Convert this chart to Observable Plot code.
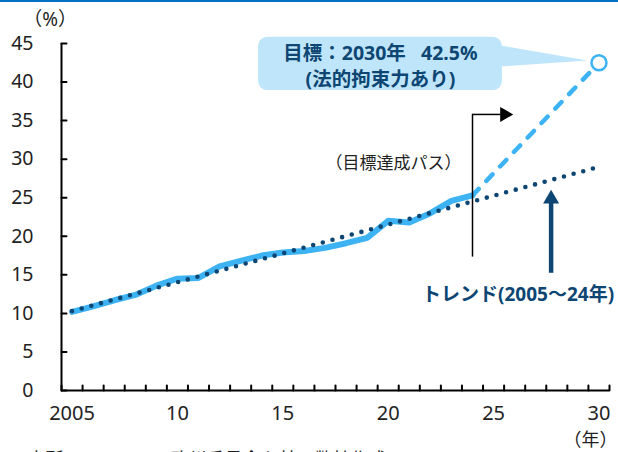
<!DOCTYPE html>
<html><head><meta charset="utf-8">
<script src="https://cdn.jsdelivr.net/npm/d3@7"></script>
<script src="https://cdn.jsdelivr.net/npm/@observablehq/plot@0.6"></script>
<style>
body{margin:0;background:#fff;}
#topRule{height:2px;background:#0070C0;width:618px;}
</style></head><body>
<div id="topRule"></div>
<div id="chart"></div>
<script>
// ---- data ----
const years = [2005,2006,2007,2008,2009,2010,2011,2012,2013,2014,2015,2016,2017,2018,2019,2020,2021,2022,2023,2024];
const share = [10.2,10.9,11.7,12.4,13.6,14.5,14.6,16.1,16.8,17.5,17.9,18.1,18.5,19.1,19.8,22.0,21.8,23.0,24.6,25.3];
const trendYears = [2005, 2030];
const trendValues = [10.3, 29.0];
const pathYears = [2024, 2030];
const pathValues = [25.3, 42.5];
const targetYear = [2030];
const targetValue = [42.5];
const xTickValues = [2005, 2010, 2015, 2020, 2025, 2030];
const xTickLabels = ["2005", "10", "15", "20", "25", "30"];
const yTickValues = [0, 5, 10, 15, 20, 25, 30, 35, 40, 45];
const bubbleText = "目標：2030年\u00a0\u00a0 42.5%\n(法的拘束力あり)";
const pathLabel = "（目標達成パス）";
const trendLabel = "トレンド(2005～24年)";
const yUnit = "（%）";
const xUnit = "（年）";
const sourceText = "出所：Eurostat、欧州委員会を基に弊社作成";

// ---- build tables ----
const actual = years.map((y, i) => ({year: y, value: share[i]}));
const trend = trendYears.map((y, i) => ({year: y, value: trendValues[i]}));
const path = pathYears.map((y, i) => ({year: y, value: pathValues[i]}));
const target = targetYear.map((y, i) => ({year: y, value: targetValue[i]}));
const xBoundaries = d3.range(2004.5, 2031, 1);

// annotation geometry (data coordinates)
const bubble = [{x1: 2013.85, x2: 2025.42, y1: 38.9, y2: 45.8}];
const tail = [{x: 2025.2, y: 44.8}, {x: 2029.45, y: 42.8}, {x: 2025.2, y: 42.0}];
const markerYear = 2024;

const blue = "#3DB3F3";
const navy = "#0D4673";
const bubbleFill = "#BFE5FA";
const tickShape = {draw(context, l) { context.moveTo(0, 0); context.lineTo(0, -l); }};

const chart = Plot.plot({
  width: 618,
  height: 450,
  marginLeft: 61,
  marginRight: 9,
  marginTop: 41,
  marginBottom: 62,
  x: {domain: [2004.5, 2030.5], label: null},
  y: {domain: [0, 45], label: null},
  style: {fontFamily: '"Noto Sans", "Noto Sans CJK JP", sans-serif', color: "#111", overflow: "visible"},
  marks: [
    // callout bubble
    Plot.rect(bubble, {x1: "x1", x2: "x2", y1: "y1", y2: "y2", rx: 9, fill: bubbleFill}),
    Plot.line(tail, {x: "x", y: "y", fill: bubbleFill, stroke: "none"}),
    Plot.text([bubbleText], {x: 2019.63, y: 42.2, text: d => d, fontSize: 19.5, fontWeight: "bold", fill: navy, lineHeight: 1.33}),
    // series
    Plot.line(actual, {x: "year", y: "value", stroke: blue, strokeWidth: 6, strokeLinejoin: "round"}),
    Plot.line(path, {x: "year", y: "value", stroke: blue, strokeWidth: 4.5, strokeDasharray: "9,11", strokeLinecap: "round"}),
    Plot.line(trend, {x: "year", y: "value", stroke: navy, strokeWidth: 4.6, strokeDasharray: "0,10", strokeLinecap: "round"}),
    Plot.dot(target, {x: "year", y: "value", r: 7.5, fill: "white", stroke: blue, strokeWidth: 2.5}),
    // marker at 2024 with right arrow
    Plot.ruleX([markerYear], {y1: 17.3, y2: 35.8, stroke: "#000", strokeWidth: 1.5}),
    Plot.ruleY([35.8], {x1: markerYear, x2: 2025.35, stroke: "#000", strokeWidth: 1.5}),
    Plot.dot([0], {x: 2025.52, y: 35.8, symbol: "triangle", r: 5.6, rotate: 90, fill: "#000", stroke: "none"}),
    // trend arrow
    Plot.ruleX([2027.73], {y1: 15.2, y2: 24.6, stroke: navy, strokeWidth: 4.5}),
    Plot.dot([0], {x: 2027.73, y: 24.84, symbol: "triangle", r: 5.95, fill: navy, stroke: "none"}),
    // labels
    Plot.text([pathLabel], {x: 2020.25, y: 29.4, text: d => d, fontSize: 17, fill: "#222"}),
    Plot.text([trendLabel], {x: 2026.16, y: 12.45, text: d => d, fontSize: 19, fontWeight: "bold", fill: navy}),
    Plot.text([yUnit], {x: 2003.96, y: 48.0, text: d => d, fontSize: 19, fill: "#222"}),
    Plot.text([xUnit], {x: 2029.6, y: -6.5, text: d => d, fontSize: 18, fill: "#222"}),
    Plot.text([sourceText], {x: 2002.89, y: -9.0, text: d => d, fontSize: 18, fill: "#222", textAnchor: "start"}),
    // axes
    Plot.ruleX([2004.5], {y1: 0, y2: 45, stroke: "#000", strokeWidth: 2}),
    Plot.ruleY([0], {stroke: "#000", strokeWidth: 2}),
    Plot.vectorY(yTickValues, {y: d => d, frameAnchor: "left", rotate: 90, length: 5, anchor: "start", shape: tickShape, stroke: "#000", strokeWidth: 2}),
    Plot.vectorX(xBoundaries, {x: d => d, frameAnchor: "bottom", length: 5, anchor: "start", shape: tickShape, stroke: "#000", strokeWidth: 2}),
    Plot.axisY({ticks: yTickValues, tickSize: 0, tickPadding: 28, fontSize: 19.5, fill: "#222"}),
    Plot.axisX({ticks: xTickValues, tickFormat: d => xTickLabels[xTickValues.indexOf(d)], tickSize: 0, tickPadding: 15, fontSize: 20, fill: "#222"})
  ]
});
document.getElementById("chart").appendChild(chart);
</script>
</body></html>
